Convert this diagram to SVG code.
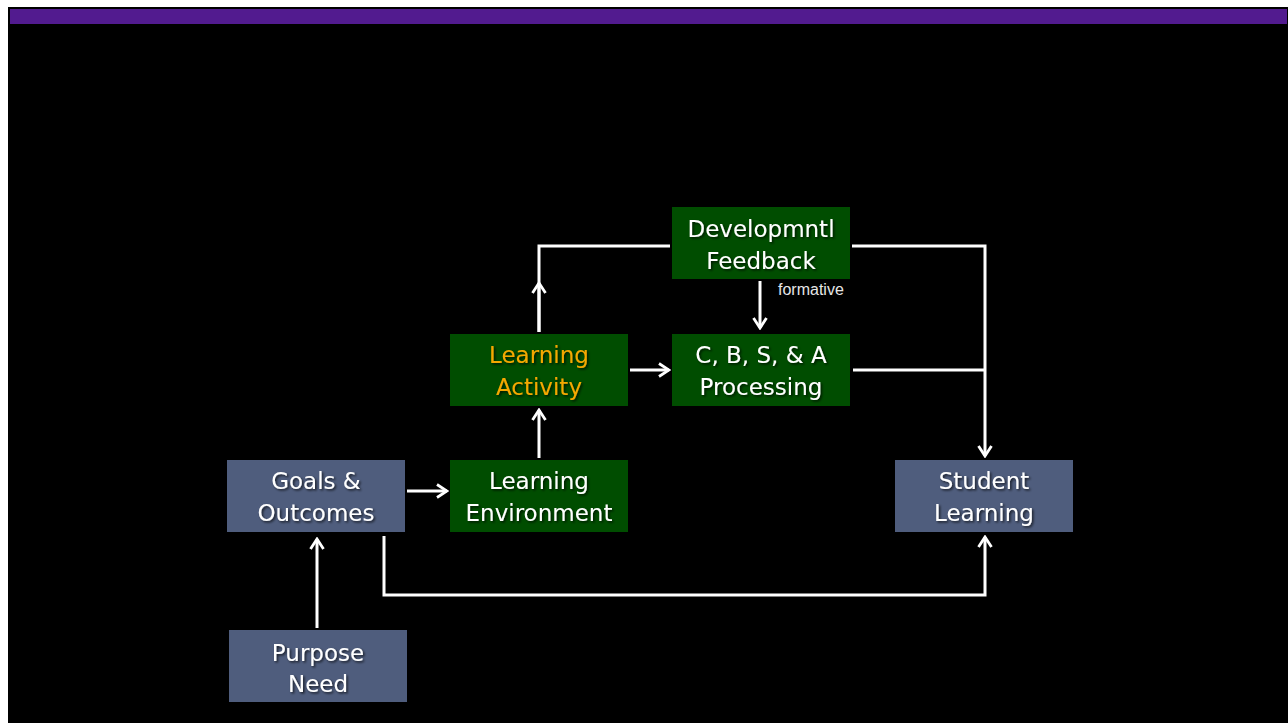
<svg xmlns="http://www.w3.org/2000/svg" width="1288" height="723" viewBox="0 0 1288 723">
<defs>
<style>
.green{fill:#004d00}
.blue{fill:#4f5d7d}
.t{font-family:"DejaVu Sans","Open Sans",sans-serif;font-size:23px;fill:#ffffff;text-anchor:middle;filter:url(#sh)}
.o{fill:#f5a800}
.c{fill:none;stroke:#ffffff;stroke-width:3}
.lbl{font-family:"Liberation Sans",Arial,sans-serif;font-size:16px;fill:#e6e6e6}
</style>
<filter id="sh" x="-10%" y="-20%" width="120%" height="150%">
<feDropShadow dx="1.5" dy="1.5" stdDeviation="1" flood-color="#000000" flood-opacity="0.7"/>
</filter>
<marker id="ah" viewBox="0 0 16 16" refX="14" refY="8" markerWidth="16" markerHeight="16" markerUnits="userSpaceOnUse" orient="auto">
<polyline points="4,1.5 14,8 4,14.5" fill="none" stroke="#ffffff" stroke-width="2.8"/>
</marker>
</defs>
<rect x="0" y="0" width="1288" height="723" fill="#ffffff"/>
<rect x="8" y="7" width="1280" height="716" fill="#000000"/>
<rect x="10" y="9" width="1277" height="15" fill="#521b8f"/>

<g id="connectors">
<path class="c" d="M539,332 V246 H670"/>
<path class="c" d="M539,332 V283" marker-end="url(#ah)"/>
<path class="c" d="M760,281 V328" marker-end="url(#ah)"/>
<path class="c" d="M630,370 H669" marker-end="url(#ah)"/>
<path class="c" d="M852,246 H985 V456" marker-end="url(#ah)"/>
<path class="c" d="M853,370 H985"/>
<path class="c" d="M539,458 V410" marker-end="url(#ah)"/>
<path class="c" d="M407,491 H447" marker-end="url(#ah)"/>
<path class="c" d="M384,536 V595 H985 V537" marker-end="url(#ah)"/>
<path class="c" d="M317,628 V539" marker-end="url(#ah)"/>
<text class="lbl" x="778" y="295">formative</text>
</g>

<g id="dev-feedback">
<rect class="green" x="672" y="207" width="178" height="72"/>
<text class="t" x="761" y="237">Developmntl</text>
<text class="t" x="761" y="269">Feedback</text>
</g>
<g id="learning-activity">
<rect class="green" x="450" y="334" width="178" height="72"/>
<text class="t o" x="539" y="363">Learning</text>
<text class="t o" x="539" y="395">Activity</text>
</g>
<g id="cbsa-processing">
<rect class="green" x="672" y="334" width="178" height="72"/>
<text class="t" x="761" y="363">C, B, S, &amp; A</text>
<text class="t" x="761" y="395">Processing</text>
</g>
<g id="goals-outcomes">
<rect class="blue" x="227" y="460" width="178" height="72"/>
<text class="t" x="316" y="489">Goals &amp;</text>
<text class="t" x="316" y="521">Outcomes</text>
</g>
<g id="learning-environment">
<rect class="green" x="450" y="460" width="178" height="72"/>
<text class="t" x="539" y="489">Learning</text>
<text class="t" x="539" y="521">Environment</text>
</g>
<g id="student-learning">
<rect class="blue" x="895" y="460" width="178" height="72"/>
<text class="t" x="984" y="489">Student</text>
<text class="t" x="984" y="521">Learning</text>
</g>
<g id="purpose-need">
<rect class="blue" x="229" y="630" width="178" height="72"/>
<text class="t" x="318" y="661">Purpose</text>
<text class="t" x="318" y="692">Need</text>
</g>
</svg>
